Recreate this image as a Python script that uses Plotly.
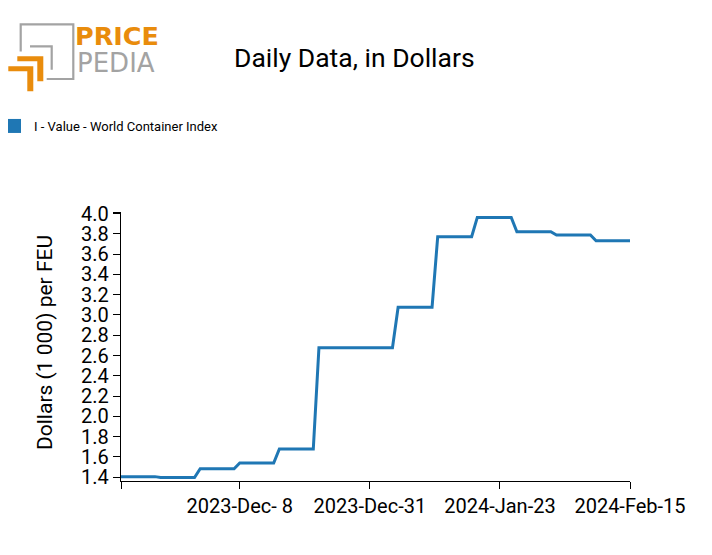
import plotly.graph_objects as go

# ---- data ----
dates = ["2023-11-17", "2023-11-23", "2023-11-24", "2023-11-30", "2023-12-01",
         "2023-12-07", "2023-12-08", "2023-12-14", "2023-12-15", "2023-12-21",
         "2023-12-22", "2024-01-04", "2024-01-05", "2024-01-11", "2024-01-12",
         "2024-01-18", "2024-01-19", "2024-01-25", "2024-01-26", "2024-02-01",
         "2024-02-02", "2024-02-08", "2024-02-09", "2024-02-15"]
values = [1.406, 1.406, 1.398, 1.398, 1.484,
          1.484, 1.540, 1.540, 1.678, 1.678,
          2.677, 2.677, 3.075, 3.075, 3.772,
          3.772, 3.962, 3.962, 3.820, 3.820,
          3.788, 3.788, 3.731, 3.731]
series_name = "I - Value - World Container Index"

x_tick_vals = ["2023-11-17", "2023-12-08", "2023-12-31", "2024-01-23", "2024-02-15"]
x_tick_text = ["", "2023-Dec- 8", "2023-Dec-31", "2024-Jan-23", "2024-Feb-15"]
y_tick_vals = [1.4, 1.6, 1.8, 2.0, 2.2, 2.4, 2.6, 2.8, 3.0, 3.2, 3.4, 3.6, 3.8, 4.0]
y_range = [1.363, 4.015]
x_range = ["2023-11-17", "2024-02-15"]

FONT = "Roboto, sans-serif"
BLUE = "#1f77b4"

OFF = 8  # the page body margin shifts the figure by this many pixels
W, H = 712 - OFF, 555 - OFF
ML, MR, MT, MB = 121 - OFF, 82, 212 - OFF, 74
PW, PH = W - ML - MR, H - MT - MB


def px(x, y):
    """reference-picture pixel -> paper coordinates"""
    x, y = x - OFF, y - OFF
    return (x - ML) / PW, (H - MB - y) / PH


def path(points, close=False):
    s = ""
    for i, (x, y) in enumerate(points):
        a, b = px(x, y)
        s += ("M" if i == 0 else "L") + f"{a:.5f},{b:.5f} "
    return s + ("Z" if close else "")


fig = go.Figure()
fig.add_trace(go.Scatter(x=dates, y=values, mode="lines",
                         line=dict(color=BLUE, width=3),
                         name=series_name, showlegend=False,
                         hoverinfo="x+y"))
fig.add_trace(go.Scatter(x=[None], y=[None], mode="markers",
                         marker=dict(symbol="square", size=14, color=BLUE),
                         name=series_name, showlegend=True))

GRAY = "#a3a3a3"
ORANGE = "#e98c0c"
shapes = [
    dict(type="path", xref="paper", yref="paper",
         path=path([(20.7, 51.5), (20.7, 24.3), (73.3, 24.3), (73.3, 79), (46.7, 79)]),
         line=dict(color=GRAY, width=2.2)),
    dict(type="path", xref="paper", yref="paper",
         path=path([(30, 46.3), (51.7, 46.3), (51.7, 69.7)]),
         line=dict(color=GRAY, width=2.2)),
    dict(type="path", xref="paper", yref="paper",
         path=path([(17.3, 56.3), (43.3, 56.3), (43.3, 81.3), (37.3, 81.3),
                    (37.3, 61.3), (17.3, 61.3)], close=True),
         fillcolor=ORANGE, line=dict(width=0)),
    dict(type="path", xref="paper", yref="paper",
         path=path([(8.3, 66.3), (33.3, 66.3), (33.3, 91.3), (27.3, 91.3),
                    (27.3, 71.3), (8.3, 71.3)], close=True),
         fillcolor=ORANGE, line=dict(width=0)),
]

ax0, ay0 = px(73, 36)
bx0, by0 = px(75, 63)
tx, ty = px(354, 58)
yx, yy = px(45, 343)
lx, ly = px(-6, 126)
annotations = [
    dict(text="<b>PRICE</b>", x=ax0, y=ay0, xref="paper", yref="paper",
         xanchor="left", yanchor="middle", showarrow=False,
         font=dict(family="DejaVu Sans", size=25.5, color=ORANGE)),
    dict(text="PEDIA", x=bx0, y=by0, xref="paper", yref="paper",
         xanchor="left", yanchor="middle", showarrow=False,
         font=dict(family="DejaVu Sans ExtraLight, DejaVu Sans", size=26, color=GRAY)),
    dict(text="Daily Data, in Dollars", x=tx, y=ty, xref="paper", yref="paper",
         xanchor="center", yanchor="middle", showarrow=False,
         font=dict(family=FONT, size=26.5, color="#000")),
    dict(text="Dollars (1 000) per FEU", x=yx, y=yy, xref="paper", yref="paper",
         xanchor="center", yanchor="middle", showarrow=False, textangle=-90,
         font=dict(family=FONT, size=21, color="#000")),
]

fig.update_layout(
    width=W, height=H,
    margin=dict(l=ML, r=MR, t=MT, b=MB, pad=0, autoexpand=False),
    paper_bgcolor="white", plot_bgcolor="white",
    font=dict(family=FONT, color="#000"),
    shapes=shapes, annotations=annotations,
    showlegend=True,
    legend=dict(xref="paper", yref="paper", x=lx, y=ly,
                xanchor="left", yanchor="middle",
                font=dict(family=FONT, size=13, color="#000"),
                itemwidth=30, bgcolor="rgba(0,0,0,0)"),
    xaxis=dict(type="date", range=x_range, tickmode="array",
               tickvals=x_tick_vals, ticktext=x_tick_text, tickangle=0,
               automargin=False,
               showgrid=False, zeroline=False, showline=True,
               linecolor="#000", linewidth=1.3,
               ticks="outside", ticklen=7, tickcolor="#000", tickwidth=1.3,
               tickfont=dict(family=FONT, size=20, color="#000")),
    yaxis=dict(range=y_range, tickmode="array", automargin=False,
               tickvals=y_tick_vals + [y_range[1]],
               ticktext=[f"{v:.1f}" for v in y_tick_vals] + [""],
               showgrid=False, zeroline=False, showline=True,
               linecolor="#000", linewidth=1.3,
               ticks="outside", ticklen=7, tickcolor="#000", tickwidth=1.3,
               tickfont=dict(family=FONT, size=20, color="#000")),
)

fig.write_html("out.html")
